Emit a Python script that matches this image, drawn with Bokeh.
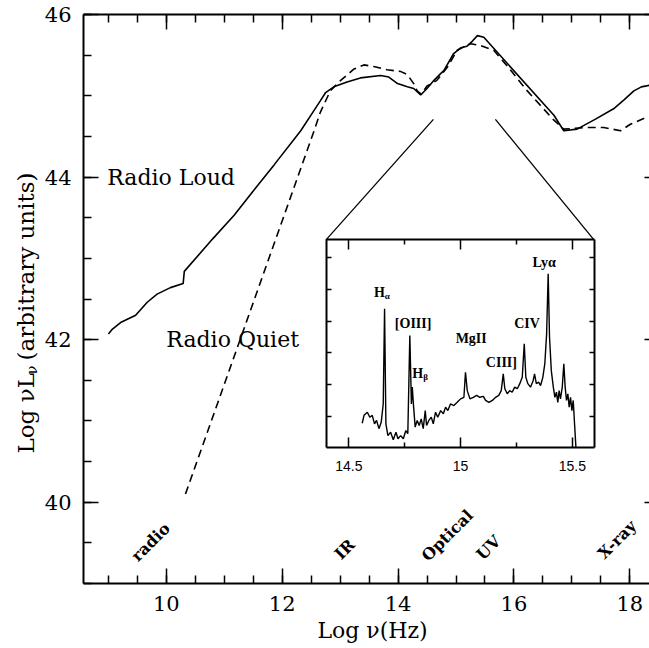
import math

from bokeh.core.properties import value
from bokeh.embed import file_html
from bokeh.models import (FixedTicker, Label, LinearAxis, Range1d,
                          SingleIntervalTicker)
from bokeh.plotting import figure
from bokeh.resources import INLINE

# ---------------------------------------------------------------------------
# Quasar spectral energy distributions: log nu (Hz) vs log nu L_nu
# ---------------------------------------------------------------------------
loud_lognu = [9.00, 9.07, 9.21, 9.47, 9.67, 9.84, 10.07, 10.29, 10.31, 10.80,
              11.17, 11.50, 11.86, 12.32, 12.55, 12.66, 12.75, 12.89, 13.12, 13.35,
              13.70, 13.84, 13.99, 14.16, 14.27, 14.39, 14.50, 14.62, 14.73, 14.79,
              14.96, 15.08, 15.19, 15.28, 15.37, 15.48, 16.69, 16.86, 17.09, 17.40,
              17.72, 17.90, 18.07, 18.20, 18.34]
loud_lum = [42.07, 42.13, 42.21, 42.30, 42.46, 42.56, 42.64, 42.69, 42.84, 43.24,
            43.53, 43.83, 44.15, 44.57, 44.82, 44.94, 45.04, 45.11, 45.17, 45.22,
            45.25, 45.23, 45.15, 45.11, 45.09, 45.01, 45.09, 45.19, 45.27, 45.31,
            45.52, 45.59, 45.61, 45.67, 45.74, 45.72, 44.76, 44.57, 44.59, 44.71,
            44.84, 44.95, 45.06, 45.11, 45.13]

quiet_lognu = [10.33, 12.55, 12.66, 12.83, 13.01, 13.24, 13.41, 13.58, 13.81, 14.04,
               14.16, 14.27, 14.33, 14.40, 14.50, 14.67, 14.85, 15.02, 15.25, 15.42,
               15.65, 15.88, 16.23, 16.69, 16.86, 17.26, 17.55, 17.84, 18.01, 18.24,
               18.34]
quiet_lum = [40.10, 44.57, 44.80, 45.06, 45.19, 45.33, 45.38, 45.36, 45.32, 45.30,
             45.26, 45.15, 45.06, 45.02, 45.12, 45.19, 45.35, 45.56, 45.64, 45.62,
             45.56, 45.37, 45.06, 44.70, 44.59, 44.61, 44.61, 44.57, 44.65, 44.72,
             44.72]

# Composite optical/UV spectrum (log nu, arbitrary flux units)
spec_lognu = [14.560, 14.568, 14.583, 14.594, 14.605, 14.615, 14.624, 14.635, 14.645, 14.654,
              14.660, 14.666, 14.675, 14.687, 14.699, 14.711, 14.720, 14.732, 14.744, 14.755,
              14.764, 14.773, 14.780, 14.784, 14.790, 14.797, 14.806, 14.815, 14.824, 14.833,
              14.842, 14.848, 14.858, 14.869, 14.878, 14.888, 14.898, 14.911, 14.923, 14.933,
              14.943, 14.955, 14.970, 14.985, 15.000, 15.015, 15.022, 15.030, 15.042, 15.057,
              15.072, 15.086, 15.102, 15.112, 15.127, 15.142, 15.157, 15.171, 15.182, 15.191,
              15.198, 15.209, 15.220, 15.231, 15.242, 15.254, 15.265, 15.276, 15.285, 15.292,
              15.301, 15.313, 15.325, 15.331, 15.339, 15.349, 15.358, 15.368, 15.377, 15.385,
              15.392, 15.398, 15.406, 15.415, 15.422, 15.429, 15.435, 15.441, 15.447, 15.455,
              15.462, 15.468, 15.474, 15.480, 15.486, 15.492, 15.498, 15.504, 15.510, 15.516]
spec_flux = [0.78, 1.03, 1.13, 0.97, 1.03, 0.76, 0.87, 0.61, 0.81, 1.39,
             4.39, 0.76, 0.39, 0.50, 0.26, 0.50, 0.29, 0.39, 0.29, 0.55,
             0.45, 3.55, 1.39, 1.92, 1.29, 0.66, 0.87, 0.71, 0.92, 0.61,
             1.18, 0.71, 0.87, 0.97, 0.76, 1.13, 0.97, 1.18, 1.08, 1.29,
             1.18, 1.39, 1.34, 1.44, 1.55, 1.60, 2.39, 1.81, 1.55, 1.60,
             1.66, 1.60, 1.63, 1.50, 1.44, 1.50, 1.60, 1.66, 1.81, 2.34,
             1.87, 1.71, 1.81, 1.76, 1.92, 1.87, 2.03, 2.23, 3.29, 2.23,
             2.03, 1.92, 2.13, 2.34, 2.03, 2.08, 1.97, 2.23, 2.66, 3.60,
             5.50, 3.50, 2.44, 1.92, 1.60, 1.76, 1.44, 1.81, 1.55, 1.92,
             2.66, 1.92, 1.50, 1.71, 1.29, 1.60, 1.18, 1.50, 0.76, 0.03]

# Emission-line identifications in the spectrum
line_labels = ["H", "[OIII]", "H", "MgII", "CIII]", "CIV", "Lyα"]
line_label_x = [14.613, 14.706, 14.784, 14.978, 15.113, 15.240, 15.322]
line_label_y = [4.915, 3.93, 2.35, 3.44, 2.70, 3.93, 5.86]
line_subscripts = ["α", "β"]
line_sub_x = [14.661, 14.833]
line_sub_y = [4.80, 2.23]

# Waveband names along the bottom
band_names = ["radio", "IR", "Optical", "UV", "X-ray"]
band_lognu = [9.73, 13.08, 14.85, 15.56, 17.78]
band_lum = [39.51, 39.42, 39.59, 39.44, 39.54]

# Curve names
curve_names = ["Radio Loud", "Radio Quiet"]
curve_name_x = [8.98, 10.00]
curve_name_y = [44.00, 42.00]

# Section of the SED that the inset magnifies
zoom_lognu = [14.61, 15.68]
zoom_lum = [44.71, 44.71]

# ---------------------------------------------------------------------------
# Layout: the axes box sits inside a canvas-wide frame so that the axis
# titles can be drawn as ordinary labels.
# ---------------------------------------------------------------------------
W, H = 649, 648
X_BOX = (8.57, 18.34)          # main axes limits
Y_BOX = (39.0, 46.0)
PAD_L, PAD_R, PAD_T, PAD_B = 83, 0, 14, 65   # pixels around the axes box

x_per_px = (X_BOX[1] - X_BOX[0]) / (W - PAD_L - PAD_R)
y_per_px = (Y_BOX[1] - Y_BOX[0]) / (H - PAD_T - PAD_B)
X_CANVAS = (X_BOX[0] - PAD_L * x_per_px, X_BOX[1] + PAD_R * x_per_px)
Y_CANVAS = (Y_BOX[0] - PAD_B * y_per_px, Y_BOX[1] + PAD_T * y_per_px)


def px_x(px):
    """Horizontal canvas pixel -> main x units (for placing titles)."""
    return X_CANVAS[0] + px * x_per_px


def px_y(py):
    """Vertical canvas pixel (from top) -> main y units."""
    return Y_CANVAS[1] - py * y_per_px


# inset's own limits, and the box it occupies in main-axis units
INSET_X = (14.398, 15.597)
INSET_Y = (0.0, 6.568)
INSET_BOX_X = (12.756, 17.382)
INSET_BOX_Y = (40.667, 43.228)

SERIF = "DejaVu Serif"


def carried_range(lim, box, canvas):
    """Range for the inset's axis that spans the whole canvas frame."""
    scale = (lim[1] - lim[0]) / (box[1] - box[0])
    return Range1d(lim[0] + (canvas[0] - box[0]) * scale,
                   lim[0] + (canvas[1] - box[0]) * scale)


p = figure(width=W, height=H,
           x_range=Range1d(*X_CANVAS), y_range=Range1d(*Y_CANVAS),
           output_backend="svg", toolbar_location=None,
           x_axis_type=None, y_axis_type=None,
           min_border=0)
p.outline_line_color = None
p.grid.visible = False
p.background_fill_color = "white"
p.border_fill_color = "white"

p.extra_x_ranges = {"inset_x": carried_range(INSET_X, INSET_BOX_X, X_CANVAS)}
p.extra_y_ranges = {"inset_y": carried_range(INSET_Y, INSET_BOX_Y, Y_CANVAS)}


def style_axis(ax, major_in, minor_in, font, size=None, standoff=0):
    ax.axis_line_width = 2
    ax.axis_line_color = "black"
    ax.major_tick_in = major_in
    ax.major_tick_out = 0
    ax.minor_tick_in = minor_in
    ax.minor_tick_out = 0
    ax.major_tick_line_width = 1.5
    ax.minor_tick_line_width = 1.5
    ax.major_tick_line_color = "black"
    ax.minor_tick_line_color = "black" if minor_in else None
    ax.major_label_text_font = font
    ax.major_label_text_font_style = "normal"
    if size is None:
        ax.major_label_text_color = None
    else:
        ax.major_label_text_color = "black"
        ax.major_label_text_font_size = size
        ax.major_label_standoff = standoff


def main_ticker():
    return SingleIntervalTicker(interval=2, num_minor_ticks=4)


bottom = LinearAxis(fixed_location=Y_BOX[0], bounds=X_BOX, ticker=main_ticker())
style_axis(bottom, 15, 8, SERIF, "21px", 12)
p.add_layout(bottom, "below")

top = LinearAxis(fixed_location=Y_BOX[1], bounds=X_BOX, ticker=main_ticker())
style_axis(top, 15, 8, SERIF)
p.add_layout(top, "above")

left = LinearAxis(fixed_location=X_BOX[0], bounds=Y_BOX, ticker=main_ticker())
style_axis(left, 15, 8, SERIF, "21px", 12)
p.add_layout(left, "left")

right = LinearAxis(fixed_location=X_BOX[1], bounds=Y_BOX, ticker=main_ticker())
style_axis(right, 5, 0, SERIF)
right.axis_line_color = None
p.add_layout(right, "right")

# ---------------------------------------------------------------------------
# SED curves
# ---------------------------------------------------------------------------
p.line(loud_lognu, loud_lum, line_color="black", line_width=1.6)
p.line(quiet_lognu, quiet_lum, line_color="black", line_width=1.6,
       line_dash="8 5")

p.text(x=curve_name_x, y=curve_name_y, text=curve_names,
       text_font=value(SERIF), text_font_size="22px", text_color="black",
       text_align="left", text_baseline="alphabetic")

p.text(x=band_lognu, y=band_lum, text=band_names, angle=math.pi / 4,
       text_font=value(SERIF), text_font_style="bold", text_font_size="16px",
       text_color="black", text_align="center", text_baseline="middle")

# lines from the magnified section down to the inset's top corners
p.segment(x0=zoom_lognu, y0=zoom_lum,
          x1=[INSET_BOX_X[0], INSET_BOX_X[1]], y1=[INSET_BOX_Y[1], INSET_BOX_Y[1]],
          line_color="black", line_width=1.3)

# ---------------------------------------------------------------------------
# Inset spectrum
# ---------------------------------------------------------------------------
p.line(spec_lognu, spec_flux, x_range_name="inset_x", y_range_name="inset_y",
       line_color="black", line_width=1.4)

p.text(x=line_label_x, y=line_label_y, text=line_labels,
       x_range_name="inset_x", y_range_name="inset_y",
       text_font=value("Liberation Serif"), text_font_style="bold",
       text_font_size="14px", text_color="black",
       text_align="left", text_baseline="alphabetic")
p.text(x=line_sub_x, y=line_sub_y, text=line_subscripts,
       x_range_name="inset_x", y_range_name="inset_y",
       text_font=value("Liberation Serif"), text_font_style="bold",
       text_font_size="9px", text_color="black",
       text_align="left", text_baseline="alphabetic")

nu_ticker = FixedTicker(ticks=[14.5, 15.0, 15.5], minor_ticks=[14.75, 15.25])
flux_ticker = FixedTicker(ticks=[1, 2, 3, 4, 5, 6], minor_ticks=[])

inset_bottom = LinearAxis(x_range_name="inset_x", y_range_name="inset_y",
                          fixed_location=INSET_Y[0], bounds=INSET_X, ticker=nu_ticker,
                          major_label_overrides={14.5: "14.5", 15: "15", 15.5: "15.5"})
style_axis(inset_bottom, 10, 5, "Liberation Sans", "14px", 13)
p.add_layout(inset_bottom, "below")

inset_top = LinearAxis(x_range_name="inset_x", y_range_name="inset_y",
                       fixed_location=INSET_Y[1], bounds=INSET_X, ticker=nu_ticker)
style_axis(inset_top, 10, 5, "Liberation Sans")
p.add_layout(inset_top, "above")

inset_left = LinearAxis(x_range_name="inset_x", y_range_name="inset_y",
                        fixed_location=INSET_X[0], bounds=INSET_Y, ticker=flux_ticker)
style_axis(inset_left, 5, 0, "Liberation Sans")
p.add_layout(inset_left, "left")

inset_right = LinearAxis(x_range_name="inset_x", y_range_name="inset_y",
                         fixed_location=INSET_X[1], bounds=INSET_Y, ticker=flux_ticker)
style_axis(inset_right, 5, 0, "Liberation Sans")
p.add_layout(inset_right, "right")

# ---------------------------------------------------------------------------
# Axis titles (labels, so that the subscript can be set)
# ---------------------------------------------------------------------------
p.add_layout(Label(x=px_x(372), y=px_y(630), text="Log ν(Hz)",
                   text_font=SERIF, text_font_size="22px", text_color="black",
                   text_align="center", text_baseline="middle"))

title_kw = dict(angle=math.pi / 2, text_font=SERIF, text_color="black",
                text_align="left", text_baseline="middle")
p.add_layout(Label(x=px_x(25), y=px_y(453), text="Log νL",
                   text_font_size="23px", **title_kw))
p.add_layout(Label(x=px_x(31), y=px_y(374), text="ν",
                   text_font_size="15px", **title_kw))
p.add_layout(Label(x=px_x(25), y=px_y(360), text="(arbitrary units)",
                   text_font_size="23px", **title_kw))

open("out.html", "w").write(file_html(p, INLINE))
